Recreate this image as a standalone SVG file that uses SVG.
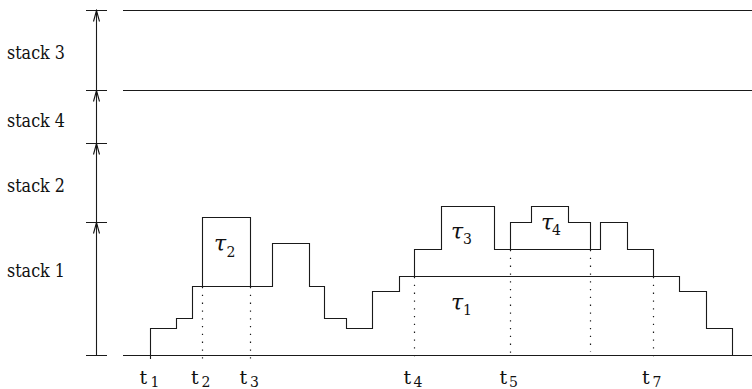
<svg xmlns="http://www.w3.org/2000/svg" width="752" height="389" viewBox="0 0 752 389">
<style>
.ln{stroke:#1a1a1a;stroke-width:1.1;fill:none}
.dot{stroke:#1a1a1a;stroke-width:1.2;fill:none;stroke-dasharray:1.3 6.5}
.lbl{font-family:'DejaVu Serif',serif;font-size:18px;fill:#111}
.tl{font-family:'DejaVu Serif',serif;font-size:19px;fill:#111}
.sub{font-size:14px}
.tau{font-family:'DejaVu Serif',serif;font-style:italic;font-size:22px;fill:#111}
.tsub{font-style:normal;font-size:14px}
</style>
<defs>
<marker id="ah" markerUnits="userSpaceOnUse" markerWidth="14" markerHeight="10" viewBox="-12 -5 14 10" refX="0" refY="0" orient="auto">
<path d="M-11,-3 L0,0 L-11,3" fill="none" stroke="#111" stroke-width="1.1"/>
</marker>
</defs>
<g id="axis">
<path class="ln" d="M86,10.5H107M86,90.5H107M86,143.5H107M86,222.5H107M86,355.5H107"/>
<line class="ln" x1="96.5" y1="355.5" x2="96.5" y2="222.5" marker-end="url(#ah)"/>
<line class="ln" x1="96.5" y1="222.5" x2="96.5" y2="143.5" marker-end="url(#ah)"/>
<line class="ln" x1="96.5" y1="143.5" x2="96.5" y2="90.5" marker-end="url(#ah)"/>
<line class="ln" x1="96.5" y1="90.5" x2="96.5" y2="10.5" marker-end="url(#ah)"/>
</g>
<g id="stack-labels">
<text class="lbl" x="7" y="59" textLength="58" lengthAdjust="spacingAndGlyphs">stack 3</text>
<text class="lbl" x="7" y="127" textLength="58" lengthAdjust="spacingAndGlyphs">stack 4</text>
<text class="lbl" x="7" y="192" textLength="58" lengthAdjust="spacingAndGlyphs">stack 2</text>
<text class="lbl" x="7" y="277" textLength="58" lengthAdjust="spacingAndGlyphs">stack 1</text>
</g>
<g id="levels">
<path class="ln" d="M123,10.5H752M123,90.5H752M123,355.5H752"/>
</g>
<g id="profile">
<path class="ln" d="M150.5,359V328.5H176.5V318.5H192.5V286.5H202.5V217.5H250.5V286.5H272.5V243.5H309.5V286.5H324.5V318.5H346.5V328.5H372.5V291.5H399.5V276.5H414.5V249.5H441.5V206.5H494.5V249.5H510.5V222.5H531.5V206.5H568.5V222.5H590.5V249.5H600.5V222.5H627.5V249.5H653.5V276.5H679.5V291.5H706.5V328.5H732.5V355.5"/>
<path class="ln" d="M202.5,286.5H250.5M399.5,276.5H653.5M494.5,249.5H600.5"/>
</g>
<g id="dotted">
<path class="dot" d="M202.5,287V359M250.5,287V359M414.5,277V359M510.5,250V359M590.5,250V352M653.5,277V359"/>
</g>
<g id="tau-labels">
<text class="tau" x="214" y="251">τ<tspan class="tsub" x="226.5" y="256.5">2</tspan></text>
<text class="tau" x="451" y="238.5">τ<tspan class="tsub" x="463" y="244">3</tspan></text>
<text class="tau" x="541" y="229.5">τ<tspan class="tsub" x="552" y="235">4</tspan></text>
<text class="tau" x="451" y="309.5">τ<tspan class="tsub" x="463" y="315">1</tspan></text>
</g>
<g id="time-labels">
<text class="tl" x="139.5" y="384">t<tspan class="sub" x="150.5" y="387">1</tspan></text>
<text class="tl" x="191" y="384">t<tspan class="sub" x="201.5" y="387">2</tspan></text>
<text class="tl" x="239.5" y="384">t<tspan class="sub" x="250" y="387">3</tspan></text>
<text class="tl" x="403.5" y="384">t<tspan class="sub" x="413.5" y="387">4</tspan></text>
<text class="tl" x="499.5" y="384">t<tspan class="sub" x="509" y="387">5</tspan></text>
<text class="tl" x="642" y="384">t<tspan class="sub" x="652.5" y="387">7</tspan></text>
</g>
</svg>
